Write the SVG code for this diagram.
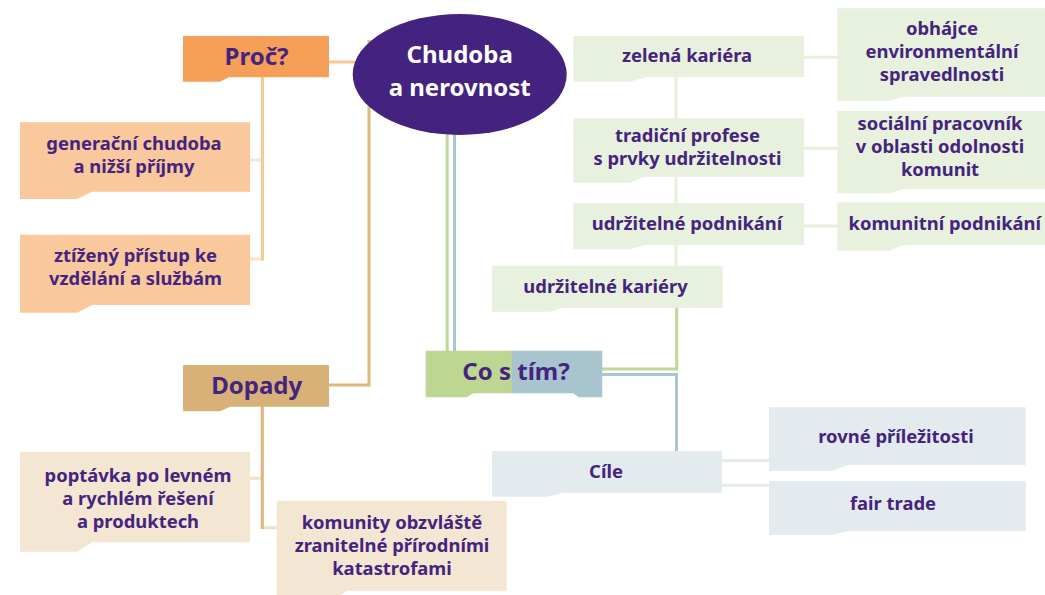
<svg xmlns="http://www.w3.org/2000/svg" width="1045" height="595" viewBox="0 0 1045 595">
<style>
  text { font-family: "Noto Sans", "Open Sans", "Liberation Sans", sans-serif; font-weight: 700; fill: #45247f; text-anchor: middle; }
  .big { font-size: 24px; }
  .sm { font-size: 18.4px; }
  .white { fill: #ffffff; }
  .ln { fill: none; stroke-width: 3; }
</style>
<rect width="1045" height="595" fill="#ffffff"/>
<g id="connectors">
  <path class="ln" stroke="#fde3c7" d="M250,160 H263 M250,259 H263"/>
  <path class="ln" stroke="#f9c995" d="M262.5,77 V260.5 M329,62 H365"/>
  <path class="ln" stroke="#dfb97c" d="M369,40 V385 H329"/>
  <path class="ln" stroke="#f2e0c4" d="M250,478.3 H262 M262,527.7 H277"/>
  <path class="ln" stroke="#dcb67a" d="M262.3,406 V529"/>
  <path class="ln" stroke="#bfd898" d="M447.2,125 V352"/>
  <path class="ln" stroke="#a9c6d0" d="M454.5,125 V352"/>
  <path class="ln" stroke="#e6f0da" d="M676,77 V266 M804,57.3 H838 M804,148.3 H838 M804,226 H838"/>
  <path class="ln" stroke="#bfd898" d="M602,369 H676.7 V307"/>
  <path class="ln" stroke="#a9c6d0" d="M602,374.5 H676.5 V452"/>
  <path class="ln" stroke="#e3ebee" d="M722,460.5 H770 M722,485.2 H770"/>
</g>
<g id="center">
  <ellipse cx="459.7" cy="74.5" rx="107" ry="60.5" fill="#44227f"/>
  <text class="big white" x="459.7" y="63">Chudoba</text>
  <text class="big white" x="459.7" y="96">a nerovnost</text>
</g>
<g id="proc">
  <path fill="#f59f58" d="M183,36 H329 V77.3 H229 L220,81.7 H183 Z"/>
  <text class="big" x="256.5" y="65">Proč?</text>
</g>
<g id="generacni">
  <path fill="#f9c89c" d="M20,122.3 H250 V191.7 H92 L77,199 H20 Z"/>
  <text class="sm" x="134" y="150">generační chudoba</text>
  <text class="sm" x="134" y="172.7">a nižší příjmy</text>
</g>
<g id="ztizeny">
  <path fill="#f9c89c" d="M20,234.7 H250 V305 H92 L77,312.7 H20 Z"/>
  <text class="sm" x="135.5" y="261.5">ztížený přístup ke</text>
  <text class="sm" x="135.5" y="285">vzdělání a službám</text>
</g>
<g id="dopady">
  <path fill="#d7b177" d="M183,365 H329 V406.7 H230 L220,411.3 H183 Z"/>
  <text class="big" x="256.7" y="394">Dopady</text>
</g>
<g id="poptavka">
  <path fill="#f3e6d2" d="M20,451.7 H250 V542.3 H92 L77,551.7 H20 Z"/>
  <text class="sm" x="138" y="481.7">poptávka po levném</text>
  <text class="sm" x="138" y="504.7">a rychlém řešení</text>
  <text class="sm" x="138" y="527.7">a produktech</text>
</g>
<g id="komunity">
  <path fill="#f3e6d2" d="M276.7,500.7 H506.7 V590.7 H347 L337,598 H276.7 Z"/>
  <text class="sm" x="392" y="529.3">komunity obzvláště</text>
  <text class="sm" x="392" y="552.3">zranitelné přírodními</text>
  <text class="sm" x="392" y="575.3">katastrofami</text>
</g>
<g id="costim">
  <path fill="#bdd793" d="M425.7,350.7 H512 V393.3 H473.3 L466.7,397.3 H425.7 Z"/>
  <path fill="#a8c5cf" d="M511.7,350.7 H602.3 V397.3 H579 L573,393.3 H511.7 Z"/>
  <text class="big" x="516" y="380">Co s tím?</text>
</g>
<g id="zelena">
  <path fill="#e8f1dd" d="M573.3,35.7 H804 V77.3 H645 L630,81.7 H573.3 Z"/>
  <text class="sm" x="687" y="62.3">zelená kariéra</text>
</g>
<g id="obhajce">
  <path fill="#e8f1dd" d="M837.3,8.3 H1045 V96.7 H903 L890,100.7 H837.3 Z"/>
  <text class="sm" x="942" y="35">obhájce</text>
  <text class="sm" x="942" y="58">environmentální</text>
  <text class="sm" x="942" y="81">spravedlnosti</text>
</g>
<g id="tradicni">
  <path fill="#e8f1dd" d="M573.3,118.3 H804 V176.7 H645 L630,182.7 H573.3 Z"/>
  <text class="sm" x="687.5" y="141.7">tradiční profese</text>
  <text class="sm" x="687.5" y="164.7">s prvky udržitelnosti</text>
</g>
<g id="socialni">
  <path fill="#e8f1dd" d="M837.3,111 H1045 V189.3 H903 L890,193.3 H837.3 Z"/>
  <text class="sm" x="940" y="130">sociální pracovník</text>
  <text class="sm" x="940" y="153">v oblasti odolnosti</text>
  <text class="sm" x="940" y="176">komunit</text>
</g>
<g id="podnikani">
  <path fill="#e8f1dd" d="M573.3,203.3 H804 V245 H645 L630,249.3 H573.3 Z"/>
  <text class="sm" x="687" y="230">udržitelné podnikání</text>
</g>
<g id="komunitni">
  <path fill="#e8f1dd" d="M837.3,202.3 H1045 V245 H903 L890,250.7 H837.3 Z"/>
  <text class="sm" x="944.8" y="230">komunitní podnikání</text>
</g>
<g id="kariery">
  <path fill="#e8f1dd" d="M492,265.7 H722.7 V307.7 H563 L550,311.7 H492 Z"/>
  <text class="sm" x="605.5" y="293.3">udržitelné kariéry</text>
</g>
<g id="cile">
  <path fill="#e3ebee" d="M492,451 H722 V492.7 H562.7 L548,496.7 H492 Z"/>
  <text class="sm" x="606" y="477.7">Cíle</text>
</g>
<g id="rovne">
  <path fill="#e3ebee" d="M769,407.3 H1025.7 V465 H848 L831.7,471 H769 Z"/>
  <text class="sm" x="896" y="442.7">rovné příležitosti</text>
</g>
<g id="fairtrade">
  <path fill="#e3ebee" d="M769,481 H1025.7 V531 H848 L831.7,535 H769 Z"/>
  <text class="sm" x="893" y="510">fair trade</text>
</g>
</svg>
